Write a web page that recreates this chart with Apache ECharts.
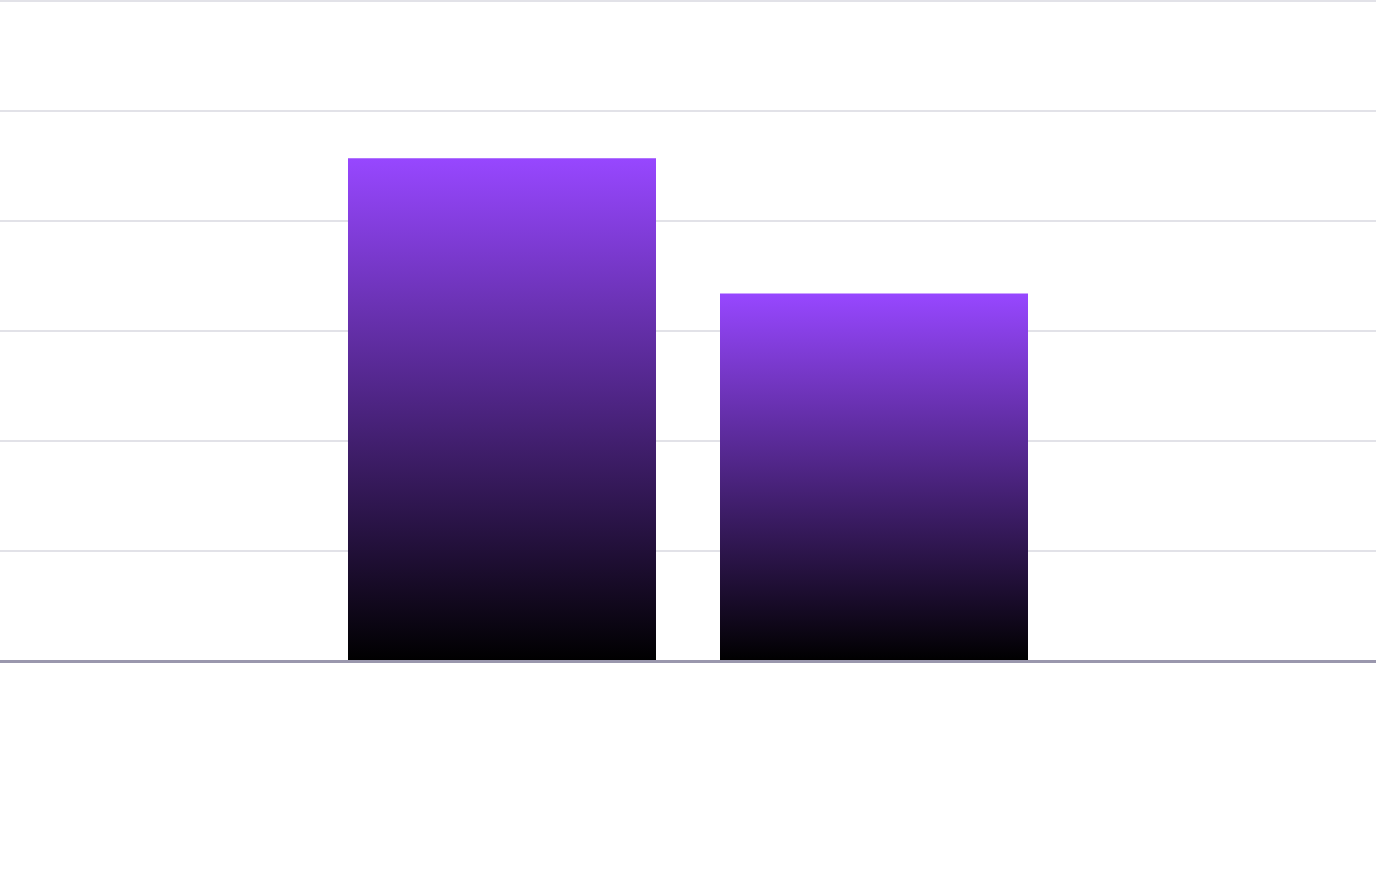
<!DOCTYPE html>
<html>
<head>
<meta charset="utf-8">
<script src="https://cdn.jsdelivr.net/npm/echarts@6/dist/echarts.min.js"></script>
<style>
html,body{margin:0;padding:0;background:#fff;}
#chart{width:1376px;height:894px;}
</style>
</head>
<body>
<div id="chart"></div>
<script>
const categories = [''];
const seriesAValues = [45.7];
const seriesBValues = [33.4];
const yMin = 0;
const yMax = 60;
const yInterval = 10;

const gradient = () => new echarts.graphic.LinearGradient(0, 0, 0, 1, [
  { offset: 0, color: '#9747FF' },
  { offset: 1, color: '#000000' }
]);

const chart = echarts.init(document.getElementById('chart'));
chart.setOption({
  animation: false,
  grid: { left: 0, right: 0, top: 1, bottom: 233, containLabel: false },
  xAxis: {
    type: 'category',
    data: categories,
    z: 5,
    axisLine: { show: true, lineStyle: { color: '#9a97ad', width: 3 } },
    axisTick: { show: false },
    axisLabel: { show: false }
  },
  yAxis: {
    type: 'value',
    min: yMin,
    max: yMax,
    interval: yInterval,
    axisLine: { show: false },
    axisTick: { show: false },
    axisLabel: { show: false },
    splitLine: { lineStyle: { color: '#e2e2e8', width: 2 } }
  },
  series: [
    { type: 'bar', data: seriesAValues, barWidth: 308, barGap: '20.78%', itemStyle: { color: gradient() } },
    { type: 'bar', data: seriesBValues, barWidth: 308, itemStyle: { color: gradient() } }
  ]
});
</script>
</body>
</html>
